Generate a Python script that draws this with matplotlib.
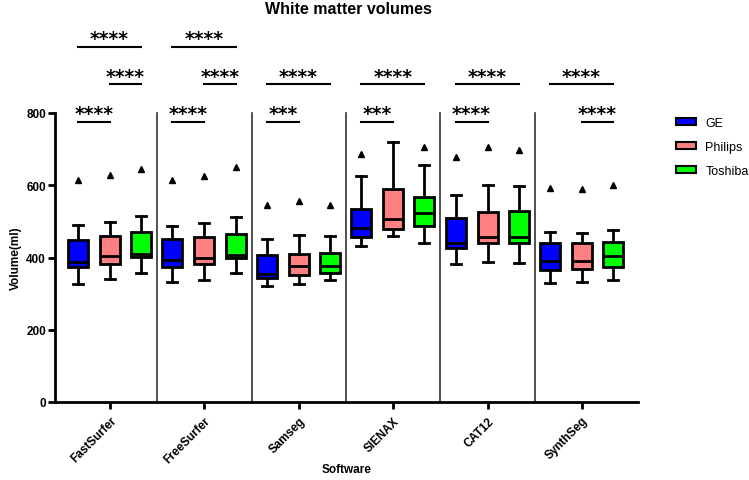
import matplotlib
matplotlib.use("Agg")
import matplotlib.pyplot as plt
from matplotlib.patches import Patch

software = ["FastSurfer", "FreeSurfer", "Samseg", "SIENAX", "CAT12", "SynthSeg"]
scanners = ["GE", "Philips", "Toshiba"]
colors = ["#0000FF", "#FF8080", "#00FF00"]

# per scanner, per software
ge_lo   = [328, 331, 322, 433, 381, 329]
ge_q1   = [375, 373, 342, 456, 426, 366]
ge_med  = [388, 393, 354, 481, 440, 391]
ge_q3   = [449, 450, 408, 534, 508, 439]
ge_hi   = [490, 486, 451, 626, 573, 471]
ge_out  = [614, 615, 545, 686, 679, 592]

ph_lo   = [340, 338, 327, 459, 388, 331]
ph_q1   = [383, 382, 352, 479, 441, 368]
ph_med  = [405, 400, 377, 507, 456, 389]
ph_q3   = [460, 456, 410, 590, 527, 440]
ph_hi   = [499, 496, 462, 719, 602, 467]
ph_out  = [629, 626, 557, None, 705, 590]

to_lo   = [356, 357, 337, 440, 385, 339]
to_q1   = [402, 398, 356, 488, 441, 373]
to_med  = [410, 407, 376, 522, 458, 403]
to_q3   = [471, 465, 412, 568, 530, 442]
to_hi   = [516, 513, 460, 656, 597, 476]
to_out  = [645, 651, 546, 707, 698, 601]

# significance: (software index, scanner a, scanner b, row, label)
sig_sw    = [0, 0, 0, 1, 1, 1, 2, 2, 3, 3, 4, 4, 5, 5]
sig_a     = [0, 1, 0, 0, 1, 0, 0, 0, 0, 0, 0, 0, 0, 1]
sig_b     = [2, 2, 1, 2, 2, 1, 2, 1, 2, 1, 2, 1, 2, 2]
sig_row   = [2, 1, 0, 2, 1, 0, 1, 0, 1, 0, 1, 0, 1, 0]
sig_label = ["****", "****", "****", "****", "****", "****", "****", "***",
             "****", "***", "****", "****", "****", "****"]
row_y = [775, 880, 983]

plt.rcParams['font.family'] = ['Liberation Sans', 'DejaVu Sans']

fig = plt.figure(figsize=(7.49, 4.81), dpi=100)
ax = fig.add_axes([55/749, 78/481, (638-55)/749, (403-114)/481])

offsets = [-0.34, 0.0, 0.33]
width = 0.212
series = [
    (ge_lo, ge_q1, ge_med, ge_q3, ge_hi, ge_out),
    (ph_lo, ph_q1, ph_med, ph_q3, ph_hi, ph_out),
    (to_lo, to_q1, to_med, to_q3, to_hi, to_out),
]
for k, (lo, q1, med, q3, hi, out) in enumerate(series):
    stats = []
    for i in range(len(software)):
        stats.append(dict(whislo=lo[i], q1=q1[i], med=med[i], q3=q3[i], whishi=hi[i],
                          fliers=[out[i]] if out[i] is not None else []))
    pos = [i + offsets[k] for i in range(len(software))]
    ax.bxp(stats, positions=pos, widths=width, patch_artist=True, showfliers=True,
           boxprops=dict(facecolor=colors[k], edgecolor='black', linewidth=2),
           medianprops=dict(color='black', linewidth=2),
           whiskerprops=dict(color='black', linewidth=2),
           capprops=dict(color='black', linewidth=2),
           capwidths=width*0.5,
           flierprops=dict(marker='^', markerfacecolor='black', markeredgecolor='black',
                           markersize=4.5, linestyle='none'),
           manage_ticks=False)

for i in range(len(software) - 1):
    ax.plot([i + 0.5, i + 0.5], [0, 800], color='#333333', lw=1.2, clip_on=False, zorder=1)

for sw, a, b, r, lab in zip(sig_sw, sig_a, sig_b, sig_row, sig_label):
    x1 = sw + offsets[a]
    x2 = sw + offsets[b]
    y = row_y[r]
    ax.plot([x1, x2], [y, y], color='black', lw=1.5, clip_on=False)
    ax.text((x1 + x2) / 2, y - 4, lab, ha='center', va='bottom', fontsize=13.5,
            fontweight='bold', family='DejaVu Sans', clip_on=False)

ax.set_xlim(-0.583, 5.593)
ax.set_ylim(0, 800)
ax.set_yticks([0, 200, 400, 600, 800])
ax.set_xticks(range(len(software)))
ax.set_xticklabels(software, rotation=45, ha='right', rotation_mode='anchor',
                   fontsize=8.5, fontweight='bold')
for t in ax.get_yticklabels():
    t.set_fontweight('bold')
    t.set_fontsize(8.5)
ax.tick_params(axis='both', width=2, length=5, direction='out')
ax.tick_params(axis='x', pad=4)
ax.tick_params(axis='y', pad=1.5)
for s in ['top', 'right']:
    ax.spines[s].set_visible(False)
for s in ['left', 'bottom']:
    ax.spines[s].set_linewidth(2)

ax.set_ylabel("Volume(ml)", fontsize=8.5, fontweight='bold', labelpad=3)
fig.text(347/749, 1 - 470/481, "Software", ha='center', va='center',
         fontsize=8.5, fontweight='bold')
fig.text(348/749, 1 - 9/481, "White matter volumes", ha='center', va='center',
         fontsize=11.5, fontweight='bold')

handles = [Patch(facecolor=c, edgecolor='black', linewidth=1.5, label=s)
           for c, s in zip(colors, scanners)]
fig.legend(handles=handles, loc='upper left', bbox_to_anchor=(671/749, 1 - 113/481),
           frameon=False, fontsize=9, handlelength=1.6, handleheight=0.45,
           labelspacing=0.95, handletextpad=0.75, borderaxespad=0)

fig.savefig("out.png", dpi=100)
